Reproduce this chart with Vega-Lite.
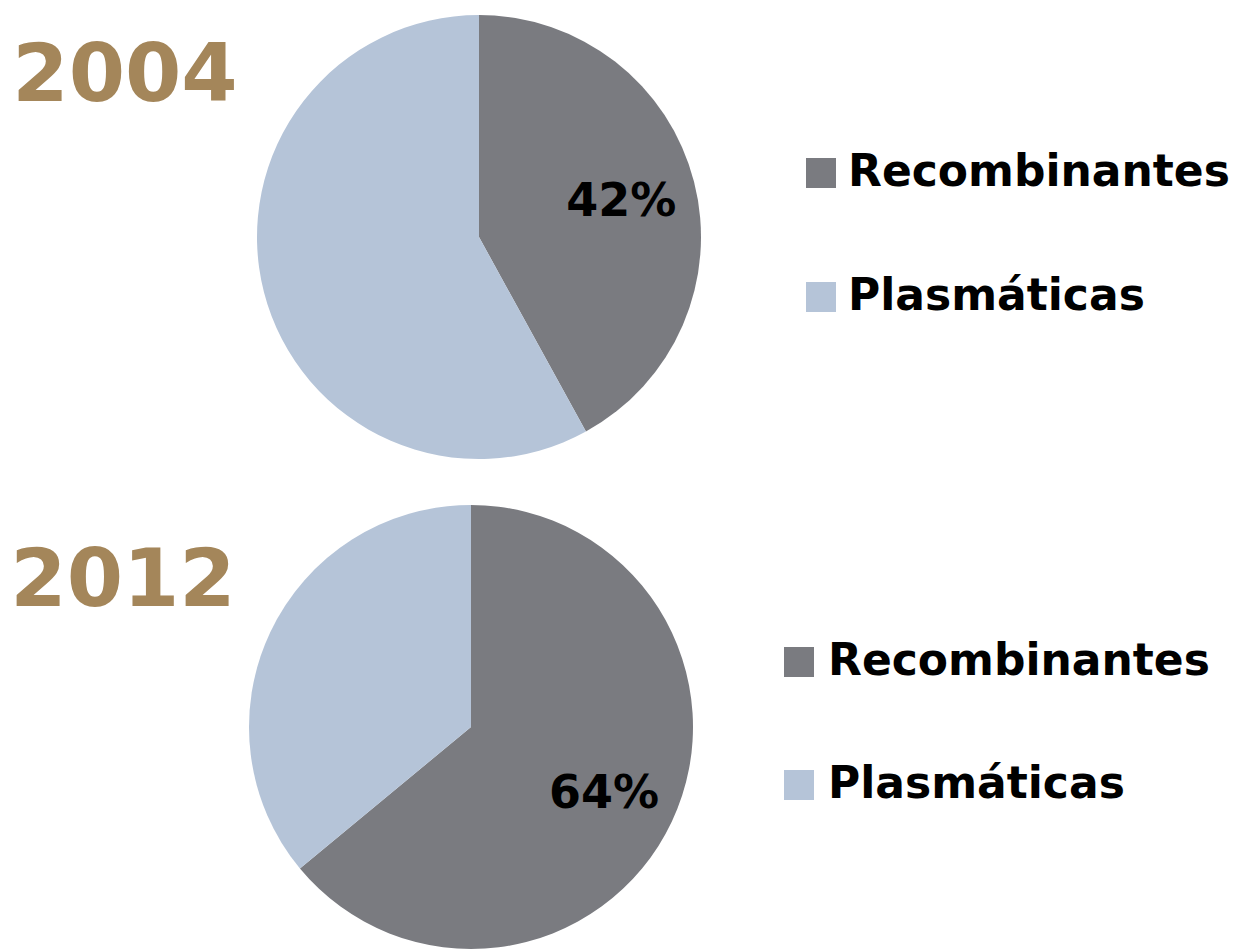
{
  "$schema": "https://vega.github.io/schema/vega-lite/v6.json",
  "width": 1249,
  "height": 949,
  "autosize": {"type": "fit", "contains": "padding"},
  "padding": 0,
  "background": "white",
  "config": {"view": {"stroke": null}},
  "data": {
    "values": [
      {"year": "2004", "tipo": "Recombinantes", "pct": 0.42},
      {"year": "2004", "tipo": "Plasmáticas", "pct": 0.58},
      {"year": "2012", "tipo": "Recombinantes", "pct": 0.64},
      {"year": "2012", "tipo": "Plasmáticas", "pct": 0.36}
    ]
  },
  "encoding": {
    "x": {"field": "year", "type": "nominal", "scale": {"type": "point", "domain": ["2004", "2012"], "range": [479, 471], "padding": 0}, "axis": null},
    "y": {"field": "year", "type": "nominal", "scale": {"type": "point", "domain": ["2004", "2012"], "range": [237, 727], "padding": 0}, "axis": null}
  },
  "layer": [
    {
      "transform": [{"filter": "datum.year === '2004'"}],
      "layer": [
        {
          "mark": {"type": "arc", "outerRadius": 222},
          "encoding": {
            "theta": {"field": "pct", "type": "quantitative", "stack": true},
            "order": {"field": "tipo", "type": "ordinal", "sort": "descending"},
            "color": {
              "field": "tipo", "type": "nominal",
              "scale": {"domain": ["Recombinantes", "Plasmáticas"], "range": ["#7A7B80", "#B5C4D8"]},
              "legend": {"orient": "none", "legendX": 799, "legendY": 151, "title": null, "symbolType": "square", "symbolSize": 900, "symbolStrokeWidth": 0, "symbolOpacity": 1, "labelFont": "DejaVu Sans", "labelFontWeight": "bold", "labelFontSize": 44, "labelColor": "black", "labelOffset": 5, "rowPadding": 80, "labelLimit": 0}
            }
          }
        },
        {
          "mark": {"type": "text", "radius": 147, "font": "DejaVu Sans", "fontWeight": "bold", "fontSize": 46, "color": "black", "align": "center", "baseline": "middle", "dy": 2},
          "encoding": {
            "theta": {"field": "pct", "type": "quantitative", "stack": true},
            "order": {"field": "tipo", "type": "ordinal", "sort": "descending"},
            "detail": {"field": "tipo", "type": "nominal"},
            "text": {"condition": {"test": "datum.tipo === 'Recombinantes'", "field": "pct", "type": "quantitative", "format": ".0%"}, "value": ""}
          }
        },
        {
          "transform": [{"filter": "datum.tipo === 'Recombinantes'"}],
          "mark": {"type": "text", "font": "DejaVu Sans", "fontWeight": "bold", "fontSize": 81, "color": "#A4865A", "align": "center", "baseline": "middle", "dx": -354, "dy": -160},
          "encoding": {"text": {"field": "year", "type": "nominal"}}
        }
      ]
    },
    {
      "transform": [{"filter": "datum.year === '2012'"}],
      "layer": [
        {
          "mark": {"type": "arc", "outerRadius": 222},
          "encoding": {
            "theta": {"field": "pct", "type": "quantitative", "stack": true},
            "order": {"field": "tipo", "type": "ordinal", "sort": "descending"},
            "color": {
              "field": "tipo", "type": "nominal",
              "scale": {"domain": ["Recombinantes", "Plasmáticas"], "range": ["#7A7B80", "#B5C4D8"]},
              "legend": {"orient": "none", "legendX": 777, "legendY": 640, "title": null, "symbolType": "square", "symbolSize": 900, "symbolStrokeWidth": 0, "symbolOpacity": 1, "labelFont": "DejaVu Sans", "labelFontWeight": "bold", "labelFontSize": 44, "labelColor": "black", "labelOffset": 7, "rowPadding": 79, "labelLimit": 0}
            }
          }
        },
        {
          "mark": {"type": "text", "radius": 147, "font": "DejaVu Sans", "fontWeight": "bold", "fontSize": 46, "color": "black", "align": "center", "baseline": "middle", "dy": 4},
          "encoding": {
            "theta": {"field": "pct", "type": "quantitative", "stack": true},
            "order": {"field": "tipo", "type": "ordinal", "sort": "descending"},
            "detail": {"field": "tipo", "type": "nominal"},
            "text": {"condition": {"test": "datum.tipo === 'Recombinantes'", "field": "pct", "type": "quantitative", "format": ".0%"}, "value": ""}
          }
        },
        {
          "transform": [{"filter": "datum.tipo === 'Recombinantes'"}],
          "mark": {"type": "text", "font": "DejaVu Sans", "fontWeight": "bold", "fontSize": 81, "color": "#A4865A", "align": "center", "baseline": "middle", "dx": -348, "dy": -145},
          "encoding": {"text": {"field": "year", "type": "nominal"}}
        }
      ]
    }
  ],
  "resolve": {"scale": {"color": "independent"}}
}
